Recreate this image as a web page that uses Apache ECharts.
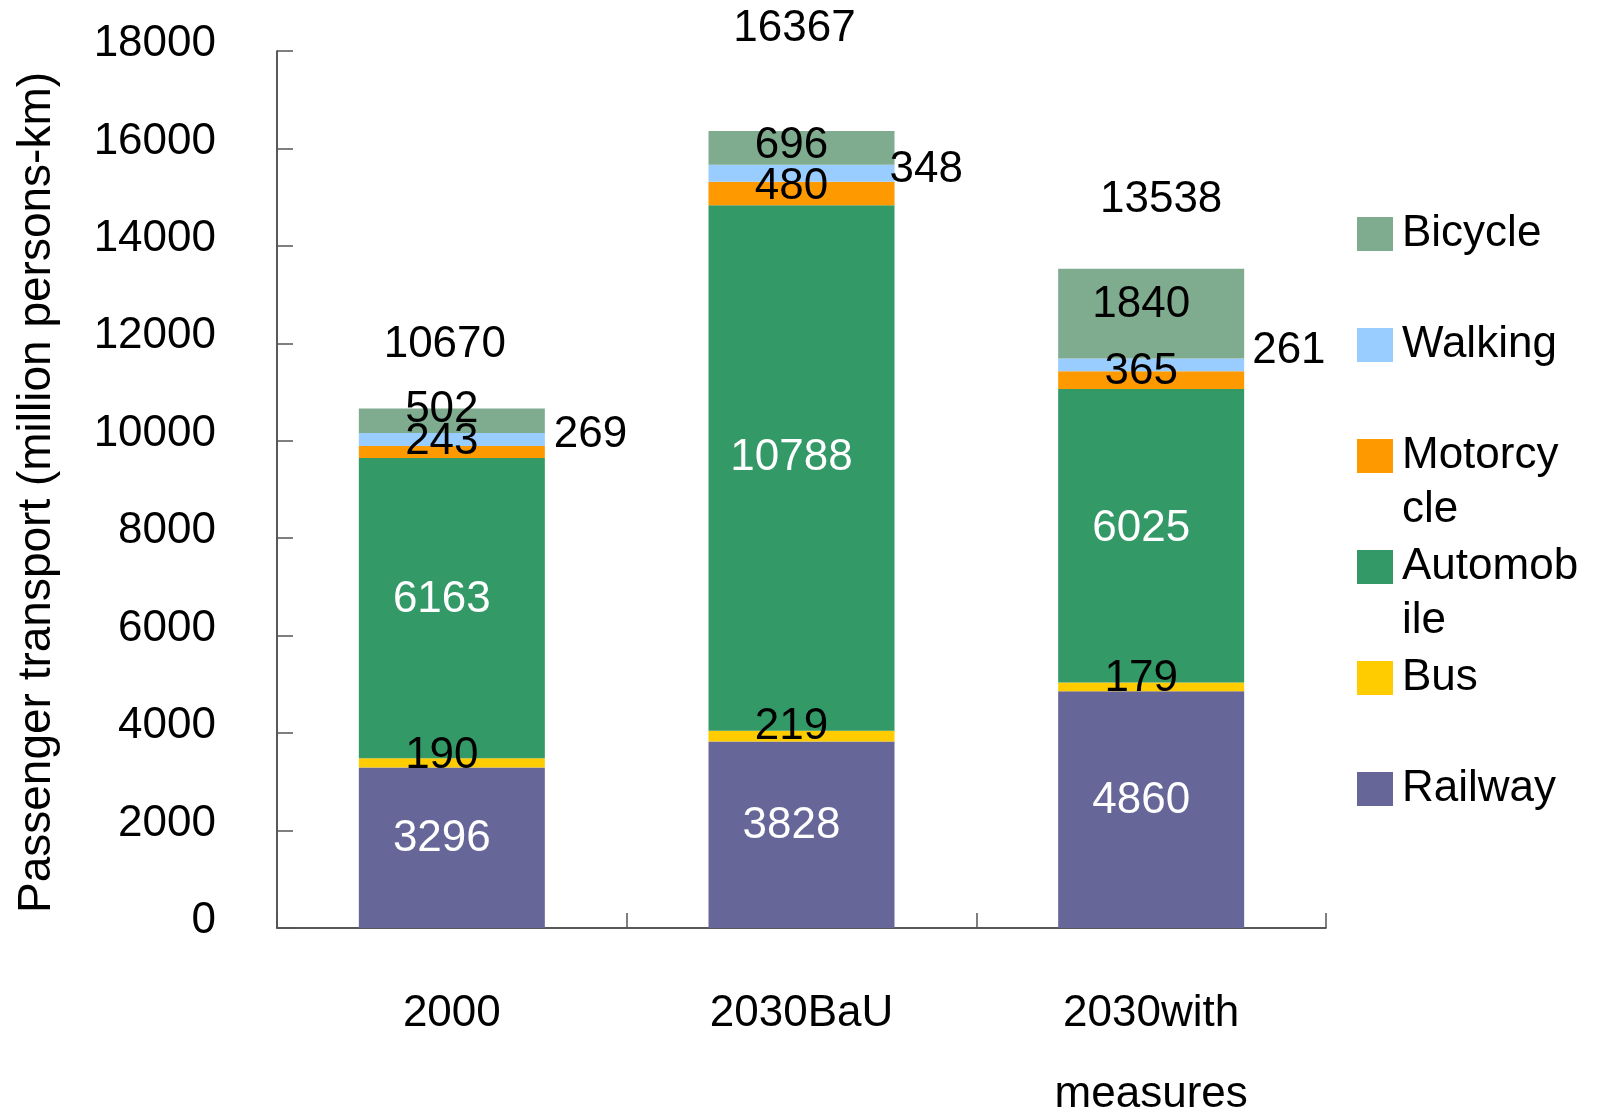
<!DOCTYPE html>
<html>
<head>
<meta charset="utf-8">
<script src="https://cdn.jsdelivr.net/npm/echarts@6/dist/echarts.min.js"></script>
<style>
  html, body { margin: 0; padding: 0; background: #ffffff; }
  #chart { width: 1602px; height: 1112px; }
</style>
</head>
<body>
<div id="chart"></div>
<script>
// Passenger transport by mode (million persons-km)
const categories = ['2000', '2030BaU', '2030with\nmeasures'];
const railway    = [3296, 3828, 4860];
const bus        = [190, 219, 179];
const automobile = [6163, 10788, 6025];
const motorcycle = [243, 480, 365];
const walking    = [269, 348, 261];
const bicycle    = [502, 696, 1840];
const totals     = [10670, 16367, 13538];

const seriesNames  = ['Railway', 'Bus', 'Automobile', 'Motorcycle', 'Walking', 'Bicycle'];
const legendOrder  = ['Bicycle', 'Walking', 'Motorcycle', 'Automobile', 'Bus', 'Railway'];
const legendLabels = {
  Bicycle: ['Bicycle'], Walking: ['Walking'], Motorcycle: ['Motorcy', 'cle'],
  Automobile: ['Automob', 'ile'], Bus: ['Bus'], Railway: ['Railway']
};
const yMin = 0, yMax = 18000, yStep = 2000;

// label placement (pixels)
const FONT = 'Liberation Sans';
const insideOffsets = {
  Railway:    [[-10, -9], [-10, -9], [-10, -9]],
  Bus:        [[-10, -7], [-10, -9], [-10, -8]],
  Automobile: [[-10, -8], [-10, -10], [-10, -7]],
  Motorcycle: [[-10, -10], [-10, -7], [-10, -8]],
  Walking:    [[-4, -5],  [-18, -3],  [-5, -14]],
  Bicycle:    [[-10, -11], [-10, -2], [-10, -9]]
};
const totalOffsets = [[-7, -63], [-7, -102], [10, -69]];

const colors = {
  Railway: '#666699', Bus: '#ffcc00', Automobile: '#339966',
  Motorcycle: '#ff9900', Walking: '#99ccff', Bicycle: '#7fab8f'
};
const labelColors = {
  Railway: '#ffffff', Bus: '#000000', Automobile: '#ffffff',
  Motorcycle: '#000000', Walking: '#000000', Bicycle: '#000000'
};
const values = { Railway: railway, Bus: bus, Automobile: automobile,
                 Motorcycle: motorcycle, Walking: walking, Bicycle: bicycle };

function barSeries(name) {
  const outside = name === 'Walking';
  return {
    type: 'bar',
    name: name,
    stack: 'modes',
    barWidth: 186,
    itemStyle: { color: colors[name] },
    emphasis: { disabled: true },
    label: {
      show: true,
      position: outside ? 'right' : 'inside',
      distance: 13,
      color: labelColors[name],
      fontFamily: FONT,
      fontSize: 44
    },
    data: values[name].map((v, i) => ({ value: v, label: { offset: insideOffsets[name][i] } }))
  };
}

const series = seriesNames.map(barSeries);
// totals printed above each column
series.push({
  type: 'scatter',
  name: 'Total',
  symbolSize: 0,
  silent: true,
  itemStyle: { opacity: 1 },
  emphasis: { disabled: true },
  label: {
    show: true,
    position: 'inside',
    color: '#000000',
    opacity: 1,
    fontFamily: FONT,
    fontSize: 44
  },
  data: totals.map((v, i) => ({ value: v, label: { offset: totalOffsets[i] } }))
});

// every legend text is three lines tall; the swatch sits on the middle line
function legendText(name) {
  const lines = legendLabels[name];
  return lines.length > 1 ? '\n' + lines.join('\n') : '\n' + lines[0] + '\n';
}

const chart = echarts.init(document.getElementById('chart'), null, { renderer: 'canvas' });
chart.setOption({
  animation: false,
  backgroundColor: '#ffffff',
  textStyle: { fontFamily: FONT },
  grid: { left: 277, right: 276, top: 51, bottom: 184, containLabel: false, outerBoundsMode: 'none' },
  legend: {
    orient: 'vertical',
    left: 1357,
    top: 153,
    padding: 0,
    itemGap: -51,
    itemWidth: 36,
    itemHeight: 34,
    icon: 'rect',
    itemStyle: { borderWidth: 0 },
    selectedMode: false,
    formatter: legendText,
    textStyle: { fontFamily: FONT, fontSize: 44, lineHeight: 54, color: '#000000', padding: [0, 0, 0, 4] },
    data: legendOrder
  },
  xAxis: {
    type: 'category',
    data: categories,
    axisLine: { show: true, lineStyle: { color: '#222222', width: 1.5 } },
    axisTick: { show: true, inside: true, length: 15, lineStyle: { color: '#555555', width: 1.5 } },
    axisLabel: {
      color: '#000000', fontFamily: FONT, fontSize: 44, lineHeight: 81, margin: 45,
      interval: 0
    },
    splitLine: { show: false }
  },
  yAxis: {
    type: 'value',
    min: yMin,
    max: yMax,
    interval: yStep,
    name: 'Passenger transport (million persons-km)',
    nameLocation: 'middle',
    nameGap: 217,
    nameTextStyle: { color: '#000000', fontFamily: FONT, fontSize: 46, padding: [0, 6, 0, 0] },
    axisLine: { show: true, lineStyle: { color: '#222222', width: 1.5 } },
    axisTick: { show: true, inside: true, length: 16, lineStyle: { color: '#555555', width: 1.5 } },
    axisLabel: {
      color: '#000000', fontFamily: FONT, fontSize: 44, margin: 61,
      verticalAlign: 'bottom',
      lineHeight: 14,
      formatter: v => String(v)
    },
    splitLine: { show: false }
  },
  series: series
});
</script>
</body>
</html>
